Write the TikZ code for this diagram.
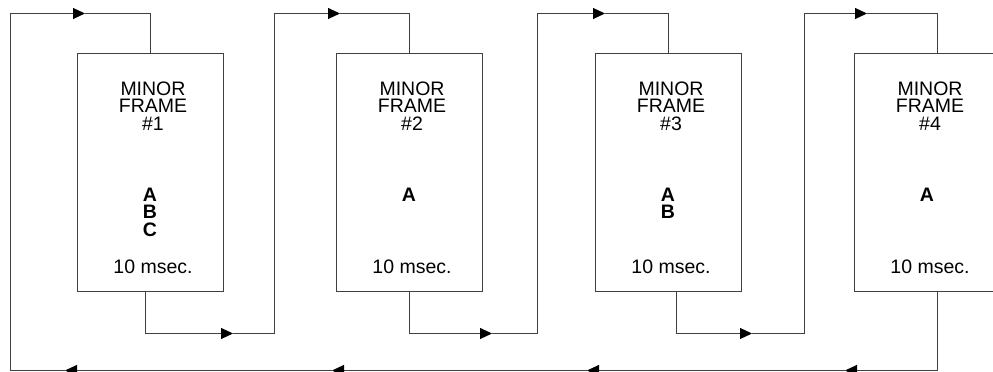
\documentclass[tikz,border=0pt]{standalone}
\usepackage{fontspec}
\setmainfont{Liberation Sans}
\usetikzlibrary{arrows.meta,positioning}

\begin{document}
\begin{tikzpicture}[
    x=1pt, y=1pt,
    frame/.style={rectangle, draw=black!75, line width=1pt, minimum width=146pt, minimum height=238pt, inner sep=0pt},
    txt/.style={align=center, inner sep=0pt, xshift=3pt, font=\fontsize{19.5}{17.5}\selectfont},
    msg/.style={align=center, inner sep=0pt, font=\fontsize{19.5}{17.5}\selectfont\bfseries},
    line/.style={draw=black!75, line width=1pt, -{Triangle[length=12pt, width=11pt, color=black]}},
    wire/.style={draw=black!75, line width=1pt}
]
    \useasboundingbox (0,0) rectangle (993,372);

    % Minor frames
    \node [frame] (mf1) at (150,199) {};
    \node [frame, right=112pt of mf1] (mf2) {};
    \node [frame, right=112pt of mf2] (mf3) {};
    \node [frame, right=112pt of mf3] (mf4) {};

    % Frame texts
    \node [txt, below=28pt of mf1.north] (title1) {MINOR\\FRAME\\\#1};
    \node [txt, below=28pt of mf2.north] (title2) {MINOR\\FRAME\\\#2};
    \node [txt, below=28pt of mf3.north] (title3) {MINOR\\FRAME\\\#3};
    \node [txt, below=28pt of mf4.north] (title4) {MINOR\\FRAME\\\#4};
    \node [msg, below=134pt of mf1.north] (msg1) {A\\B\\C};
    \node [msg, below=134pt of mf2.north] (msg2) {A};
    \node [msg, below=134pt of mf3.north] (msg3) {A\\B};
    \node [msg, below=134pt of mf4.north] (msg4) {A};
    \node [txt, above=19pt of mf1.south] (time1) {10 msec.};
    \node [txt, above=19pt of mf2.south] (time2) {10 msec.};
    \node [txt, above=19pt of mf3.south] (time3) {10 msec.};
    \node [txt, above=19pt of mf4.south] (time4) {10 msec.};

    % Turning points and arrow tips
    \coordinate (low1) at (233,38.5);
    \coordinate (rise1) at (274,358.5);
    \coordinate (high1) at (340,358.5);
    \coordinate (low2) at (492,38.5);
    \coordinate (rise2) at (537,358.5);
    \coordinate (high2) at (605,358.5);
    \coordinate (low3) at (752,38.5);
    \coordinate (rise3) at (804,358.5);
    \coordinate (high3) at (867,358.5);
    \coordinate (back1) at (845,1.5);
    \coordinate (back2) at (587,1.5);
    \coordinate (back3) at (332,1.5);
    \coordinate (back4) at (65,1.5);
    \coordinate (rise0) at (10,358.5);
    \coordinate (high0) at (85,358.5);

    % Connections
    \path [line] ([xshift=-5pt]mf1.south) |- (low1);
    \path [line] (low1) -| (rise1) -- (high1);
    \path [wire] (high1) -| (mf2.north);
    \path [line] (mf2.south) |- (low2);
    \path [line] (low2) -| (rise2) -- (high2);
    \path [wire] (high2) -| (mf3.north);
    \path [line] ([xshift=8pt]mf3.south) |- (low3);
    \path [line] (low3) -| (rise3) -- (high3);
    \path [wire] (high3) -| ([xshift=10pt]mf4.north);

    % Return path
    \path [line] ([xshift=10pt]mf4.south) |- (back1);
    \path [line] (back1) -- (back2);
    \path [line] (back2) -- (back3);
    \path [line] (back3) -- (back4);
    \path [line] (back4) -| (rise0) -- (high0);
    \path [wire] (high0) -| (mf1.north);

\end{tikzpicture}
\end{document}
